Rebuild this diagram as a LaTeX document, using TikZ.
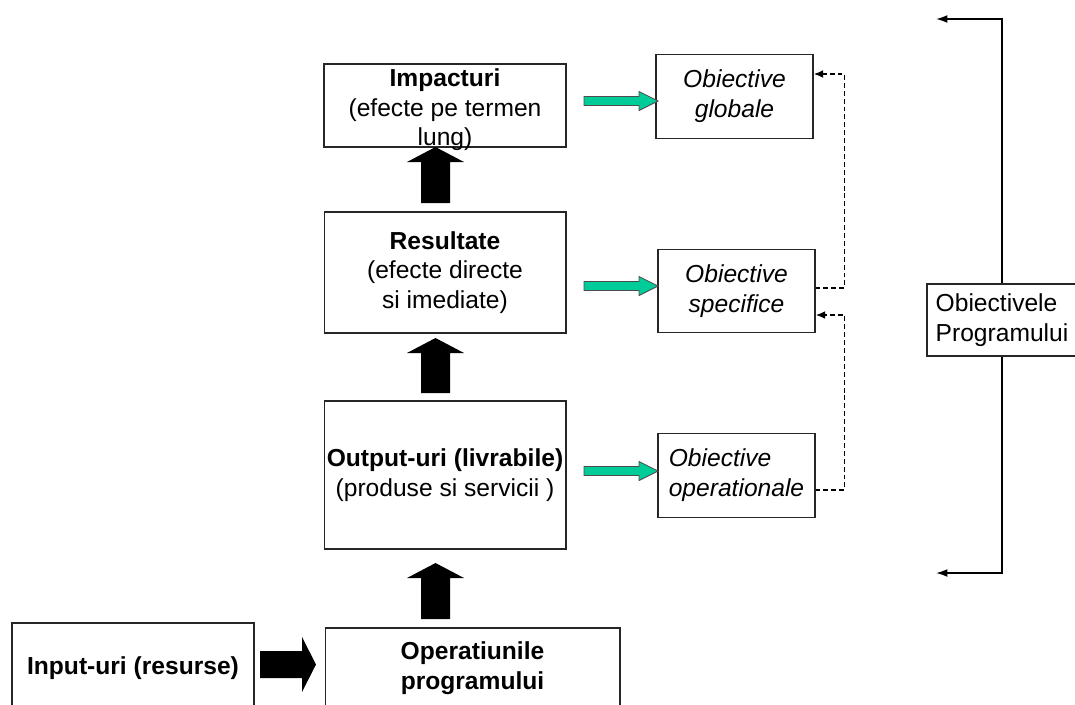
\documentclass[tikz,border=0pt]{standalone}
\usepackage{fontspec}
\setmainfont{Liberation Sans}
\usepackage{tikz}
\usepackage{color}
\usetikzlibrary{arrows.meta}

\definecolor{flowgreen}{RGB}{0,204,153}

\begin{document}
\begin{tikzpicture}[x=0.02cm, y=-0.02cm,
  box/.style={draw=black!85, line width=0.6pt, fill=white, align=center, inner sep=0pt,
    font=\fontsize{14}{16.8}\selectfont},
  objbox/.style={box, minimum width=3.14cm, minimum height=1.67cm,
    font=\fontsize{14}{17}\selectfont\itshape},
  blockarrow/.style={fill=black},
  greenarrow/.style={fill=flowgreen, draw=black!70, line width=0.5pt},
  backlink/.style={line width=1.1pt, dash pattern=on 2.8pt off 1.7pt, -{Latex[length=5.5pt,width=4.5pt]}},
  bracket/.style={line width=0.9pt, -{Latex[length=6.5pt,width=4.5pt]}}
]
\useasboundingbox (0,0) rectangle (1075,704);

% chain of the programme
\draw[box] (324,64) rectangle (566,147);
\node[box, draw=none, fill=none] (impact) at (445,110) {\textbf{Impacturi}\\(efecte pe termen\\lung)};
\node[box, minimum width=4.84cm, minimum height=2.42cm] (result) at (445,272.5) {\textbf{Resultate}\\(efecte directe\\si imediate)};
\node[box, minimum width=4.84cm, minimum height=2.96cm] (output) at (445,475) {\textbf{Output-uri (livrabile)}\\(produse si servicii )};
\node[box, minimum width=5.9cm, minimum height=1.6cm] (operations) at (472.5,668) {\textbf{Operatiunile}\\\textbf{programului}};
\node[box, minimum width=4.84cm, minimum height=1.8cm] (input) at (133,668) {\textbf{Input-uri (resurse)}};

\foreach \t/\b in {147/203, 338/393, 563/619}
  \fill[blockarrow] (421,\b) -- (421,\t+15) -- (407,\t+15) -- (435.5,\t) -- (464,\t+15) -- (450,\t+15) -- (450,\b) -- cycle;
\fill[blockarrow] (260,651) -- (302,651) -- (302,637) -- (316,664.5) -- (302,692) -- (302,678) -- (260,678) -- cycle;

% objectives
\node[objbox] (global) at (734.5,96.5) {Obiective\\globale};
\node[objbox] (specific) at (736.5,291) {Obiective\\specifice};
\node[objbox, align=left] (operational) at (736.5,475.5) {Obiective\\operationale};

\foreach \y in {101, 286, 471}
  \draw[greenarrow] (584,\y-4.5) -- (639,\y-4.5) -- (639,\y-9.5) -- (658,\y) -- (639,\y+9.5) -- (639,\y+4.5) -- (584,\y+4.5) -- cycle;

\draw[backlink] ([yshift=0.06cm]specific.east) -- ++(29,0) |- ([yshift=0.45cm]global.east);
\draw[backlink] ([yshift=-0.29cm]operational.east) -- ++(29,0) |- ([yshift=-0.48cm]specific.east);

% programme objectives
\coordinate (top) at (936,19);
\coordinate (bottom) at (936,573);
\node[box, minimum width=3cm, minimum height=1.44cm, align=left] (programme) at (1002,320) {Obiectivele\\Programului};
\draw[bracket] (programme.north) |- (top);
\draw[bracket] (programme.south) |- (bottom);

\end{tikzpicture}
\end{document}
